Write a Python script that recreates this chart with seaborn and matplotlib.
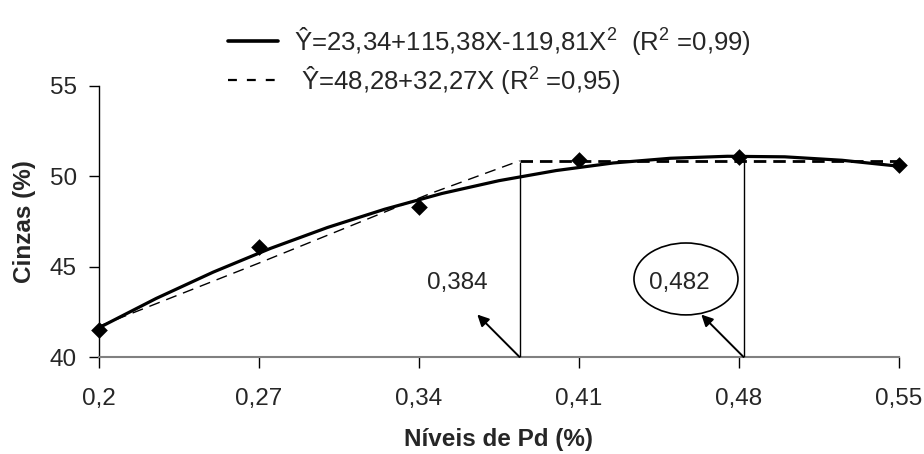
import numpy as np
import pandas as pd
import seaborn as sns
import matplotlib
matplotlib.use("Agg")
import matplotlib.pyplot as plt
from matplotlib.lines import Line2D
from matplotlib.patches import Ellipse

# ---- data ----
levels = [0.20, 0.27, 0.34, 0.41, 0.48, 0.55]
ash_obs = [41.5, 46.1, 48.3, 50.9, 51.05, 50.6]

quad_x = [0.200, 0.225, 0.250, 0.275, 0.300, 0.325, 0.350, 0.375,
          0.400, 0.425, 0.450, 0.475, 0.500, 0.525, 0.550]
quad_y = [41.62, 43.24, 44.70, 46.01, 47.17, 48.18, 49.05, 49.76,
          50.32, 50.74, 51.00, 51.11, 51.08, 50.89, 50.56]

lrp_x = [0.200, 0.270, 0.345, 0.384, 0.550]
lrp_y = [41.7, 45.2, 49.05, 50.86, 50.86]

opt_points = [0.384, 0.482]
opt_labels = ["0,384", "0,482"]
opt_tops = [50.75, 51.1]

xticks = [0.2, 0.27, 0.34, 0.41, 0.48, 0.55]
xtick_labels = ["0,2", "0,27", "0,34", "0,41", "0,48", "0,55"]
yticks = [40, 45, 50, 55]

label_quad = "Ŷ=23,34+115,38X-119,81X$^2$  (R$^2$ =0,99)"
label_lrp = " Ŷ=48,28+32,27X (R$^2$ =0,95)"

# ---- style ----
sns.set_style("ticks")
plt.rcParams['font.family'] = ['Liberation Sans', 'DejaVu Sans']
plt.rcParams['mathtext.fontset'] = 'custom'
plt.rcParams['mathtext.rm'] = 'Liberation Sans'
plt.rcParams['mathtext.default'] = 'regular'

FS = 17.5
fig = plt.figure(figsize=(9.24, 4.54), dpi=100)
ax = fig.add_axes([99/924, 97/454, 800/924, 271/454])

df_q = pd.DataFrame({"x": quad_x, "y": quad_y})
df_l = pd.DataFrame({"x": lrp_x, "y": lrp_y})
df_o = pd.DataFrame({"x": levels, "y": ash_obs})

sns.lineplot(data=df_q, x="x", y="y", ax=ax, color="black", lw=2.3,
             sort=False, estimator=None)
# sloped part of the plateau model (thin dashes) and the plateau (thick dashes)
sns.lineplot(data=df_l.iloc[:4], x="x", y="y", ax=ax, color="black", lw=1.0,
             sort=False, estimator=None).lines[-1].set_dashes((8, 5))
sns.lineplot(data=df_l.iloc[3:], x="x", y="y", ax=ax, color="black", lw=2.0,
             sort=False, estimator=None).lines[-1].set_dashes((4.5, 2.5))
sns.scatterplot(data=df_o, x="x", y="y", ax=ax, marker="D", s=72,
                color="black", linewidth=0, zorder=5, clip_on=False)

# vertical lines, arrows, labels
for xv, lab, top in zip(opt_points, opt_labels, opt_tops):
    ax.plot([xv, xv], [40, top], color="black", lw=1.0, zorder=3)
    ax.annotate("", xy=(xv - 0.0185, 42.35), xytext=(xv, 40.0),
                arrowprops=dict(arrowstyle="-|>", color="black", lw=1.4,
                                mutation_scale=17, shrinkA=0, shrinkB=0))
ax.text(0.3566, 44.1, opt_labels[0], ha="center", va="center", fontsize=FS)
ax.text(0.4538, 44.1, opt_labels[1], ha="center", va="center", fontsize=FS)
ax.add_patch(Ellipse((0.4568, 44.32), 0.0455, 3.98, fill=False,
                     edgecolor="black", lw=1.2))

# axes
ax.set_xlim(0.2, 0.55)
ax.set_ylim(40, 55)
ax.set_xticks(xticks)
ax.set_xticklabels(xtick_labels)
ax.set_yticks(yticks)
ax.tick_params(axis="y", direction="out", length=7, width=1, color="black",
               labelsize=FS, pad=9)
ax.tick_params(axis="x", direction="out", length=8, width=1, color="black",
               labelsize=FS, pad=14)
sns.despine(ax=ax)
ax.spines["left"].set_color("black")
ax.spines["left"].set_linewidth(1.0)
ax.spines["bottom"].set_color("#808080")
ax.spines["bottom"].set_linewidth(1.5)
ax.set_xlabel("Níveis de Pd (%)", fontsize=FS, fontweight="bold", labelpad=13)
ax.set_ylabel("Cinzas (%)", fontsize=FS, fontweight="bold", labelpad=10)

# legend
LFS = 18.5
h1 = Line2D([], [], color="black", lw=2.6)
h2 = Line2D([], [], color="black", lw=1.6, dashes=(4, 4.5))
fig.legend([h1, h2], [label_quad, label_lrp], loc="upper left",
           bbox_to_anchor=(228/924, 1 - 25/454), frameon=False,
           fontsize=LFS, handlelength=1.95, handletextpad=0.6,
           labelspacing=0.28, borderpad=0, borderaxespad=0)

fig.savefig("out.png", dpi=100)
